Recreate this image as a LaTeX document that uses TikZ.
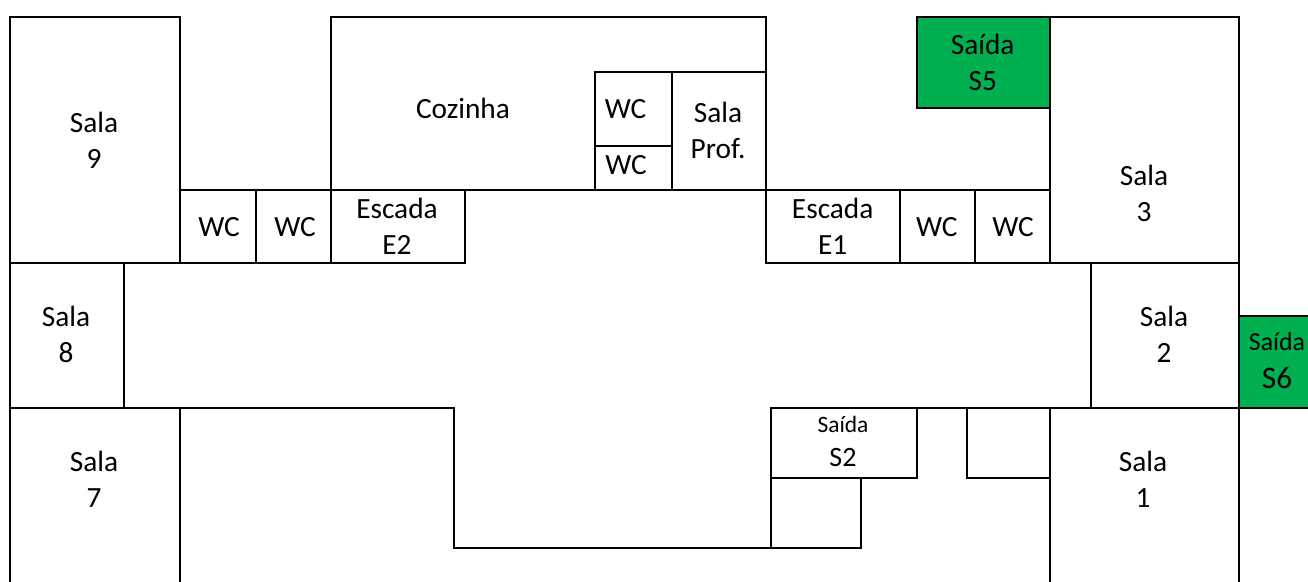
\documentclass[tikz,border=0pt]{standalone}
\usepackage{fontspec}
\setmainfont{Carlito}
\definecolor{exitgreen}{HTML}{00B050}
\tikzset{
  wall/.style={draw=black,line width=1.5pt,line cap=rect,line join=miter},
  label/.style={anchor=base,align=center,inner sep=0pt,text=black,font=\fontsize{22}{27}\selectfont},
  exit/.style={fill=exitgreen,draw=none}
}
\begin{document}
\begin{tikzpicture}[x=0.75pt,y=-0.75pt]
\useasboundingbox (0,0) rectangle (1308,581);
% green exits
\fill[exit] (917,17) rectangle (1050,108.5);
\fill[exit] (1239,315.7) rectangle (1308,407.7);
% left block
\draw[wall] (10,581) -- (10,17) -- (180,17) -- (180,263);
\draw[wall] (10,263) -- (464.5,263) -- (464.5,190) -- (180,190);
\draw[wall] (256,190) -- (256,263);
\draw[wall] (331,263) -- (331,17) -- (766,17) -- (766,263) -- (1239,263);
\draw[wall] (124,263) -- (124,407.7);
% central upper
\draw[wall] (464.5,190) -- (1050,190);
\draw[wall] (595,190) -- (595,72) -- (766,72);
\draw[wall] (672,72) -- (672,190);
\draw[wall] (595,146.5) -- (672,146.5);
% right upper
\draw[wall] (900,190) -- (900,263);
\draw[wall] (975,190) -- (975,263);
\draw[wall] (917,108.5) -- (917,17) -- (1239,17) -- (1239,581);
\draw[wall] (917,108.5) -- (1050,108.5);
\draw[wall] (1050,17) -- (1050,263);
\draw[wall] (1091,263) -- (1091,407.7);
\draw[wall] (1239,315.7) -- (1308,315.7);
\draw[wall] (1239,407.7) -- (1308,407.7);
% lower
\draw[wall] (10,407.7) -- (454,407.7) -- (454,547.7) -- (861,547.7) -- (861,477.7);
\draw[wall] (180,407.7) -- (180,581);
\draw[wall] (771,547.7) -- (771,407.7) -- (1239,407.7);
\draw[wall] (771,477.7) -- (916.5,477.7) -- (916.5,407.7);
\draw[wall] (967,407.7) -- (967,477.7) -- (1050,477.7);
\draw[wall] (1050,407.7) -- (1050,581);
% labels (position = centre x, baseline of last line)
\node[label] (s9) at (94,168) {Sala\\9};
\node[label] (s8) at (66,362.7) {Sala\\8};
\node[label] (s7) at (94,507.5) {Sala\\7};
\node[label] (wc1) at (219,236) {WC};
\node[label] (wc2) at (295,236) {WC};
\node[label] (e2) at (397,254) {Escada\\E2};
\node[label] (coz) at (463,119) {Cozinha};
\node[label] (wc3) at (625.5,118.3) {WC};
\node[label] (wc4) at (626,174.3) {WC};
\node[label] (prof) at (718,158.7) {Sala\\Prof.};
\node[label] (e1) at (832.7,254) {Escada\\E1};
\node[label] (wc5) at (936.7,236) {WC};
\node[label] (wc6) at (1013,236) {WC};
\node[label] (s3) at (1144,221.7) {Sala\\3};
\node[label] (s5) at (982.7,90.7) {Saída\\S5};
\node[label] (s2r) at (1164,362.7) {Sala\\2};
\node[label] (s1) at (1143,507.3) {Sala\\1};
\node[label,font=\fontsize{21}{25.3}\selectfont] (s2) at (843,466.7) {{\fontsize{17.6}{25.3}\selectfont Saída}\\S2};
\node[label,font=\fontsize{23.5}{28}\selectfont] (s6) at (1277,388) {{\fontsize{19.4}{28}\selectfont Saída}\\S6};
\end{tikzpicture}
\end{document}
